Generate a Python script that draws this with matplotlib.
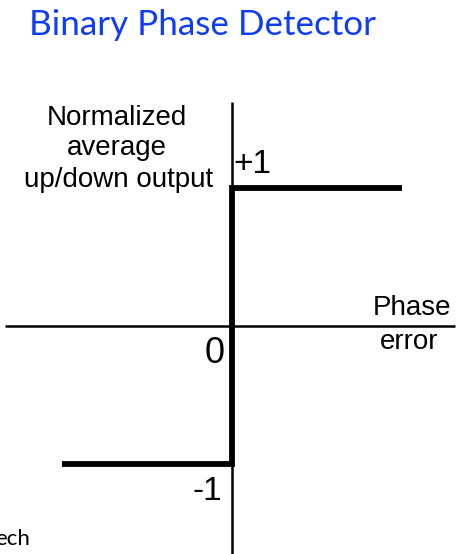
import matplotlib
matplotlib.use("Agg")
import matplotlib.pyplot as plt

# step response of a binary (bang-bang) phase detector
phase_err = [-1, 0, 0, 1]
avg_out = [-1, -1, 1, 1]

title = "Binary Phase Detector"
y_label = ["Normalized", "average", "up/down output"]
x_label = ["Phase", "error"]
level_labels = ["+1", "0", "-1"]

W, H = 461, 554
fig = plt.figure(figsize=(W / 100, H / 100), dpi=100)
ax = fig.add_axes([0, 0, 1, 1])

# origin at pixel (231.5, 326), one unit = 170 px across, 138 px up
x0, y0, sx, sy = 231.5, 326, 170, 138
ax.set_xlim(-x0 / sx, (W - x0) / sx)
ax.set_ylim((y0 - H) / sy, y0 / sy)
ax.axis("off")

# coordinate axes
ax.plot([(5 - x0) / sx, (455 - x0) / sx], [0, 0], color="black", lw=1.8,
        solid_capstyle="butt")
ax.plot([0, 0], [(y0 - 102) / sy, (y0 - H) / sy], color="black", lw=1.8,
        solid_capstyle="butt")

# the characteristic
ax.plot(phase_err, avg_out, color="black", lw=4.2, solid_joinstyle="miter",
        solid_capstyle="butt")


def px(x, y):
    return x / W, 1 - y / H


arial = "Liberation Sans"
for txt, (cx, by) in zip(y_label, [(117, 125), (117, 155), (119, 187)]):
    fig.text(*px(cx, by), txt, ha="center", va="baseline", fontsize=20,
             family=arial)

fig.text(*px(233, 173), level_labels[0], ha="left", va="baseline",
         fontsize=24, family=arial)
fig.text(*px(225, 363), level_labels[1], ha="right", va="baseline",
         fontsize=26, family=arial)
fig.text(*px(222, 500), level_labels[2], ha="right", va="baseline",
         fontsize=24, family=arial)

fig.text(*px(411.5, 315), x_label[0], ha="center", va="baseline",
         fontsize=20, family=arial)
fig.text(*px(409, 349), x_label[1], ha="center", va="baseline",
         fontsize=20, family=arial)

# title, sized so it spans the same width as the reference
t = fig.text(*px(29, 35), title, ha="left", va="baseline", fontsize=24,
             family="Lato", color="#0f3cf5")
r = fig.canvas.get_renderer()
w = t.get_window_extent(r).width
t.set_fontsize(24 * 346 / w)

fig.text(*px(30, 545), "ech", ha="right", va="baseline", fontsize=16,
         family="Lato", color="black")

fig.savefig("out.png", dpi=100)
